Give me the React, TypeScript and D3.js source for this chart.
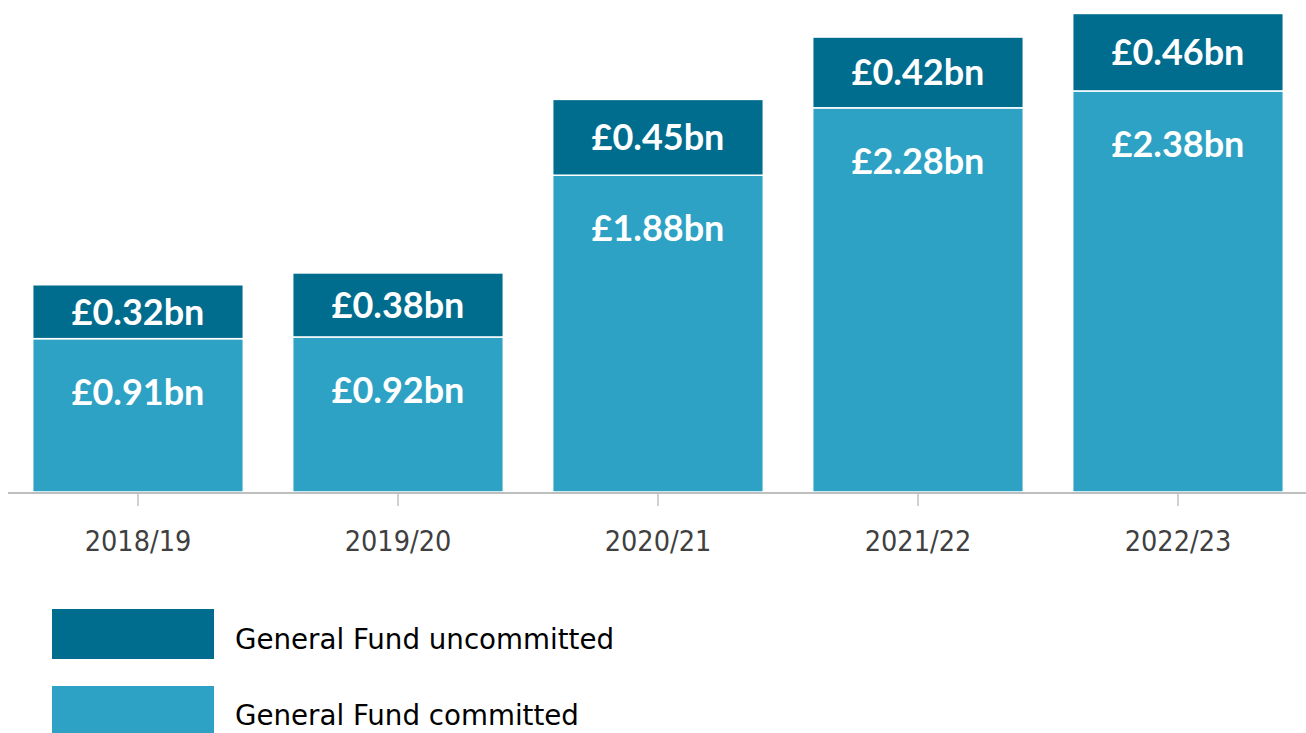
import React from "react";
import * as d3 from "d3";

const categories = ["2018/19", "2019/20", "2020/21", "2021/22", "2022/23"];
const committed = [0.91, 0.92, 1.88, 2.28, 2.38];
const uncommitted = [0.32, 0.38, 0.45, 0.42, 0.46];
const seriesNames = ["General Fund uncommitted", "General Fund committed"];

const W = 1306;
const H = 733;
const DARK = "#006d8e";
const LIGHT = "#2da2c4";

export default function App() {
  const x = d3.scaleBand<string>().domain(categories).range([8, 1308]).paddingInner(0.19).paddingOuter(0.095);
  const baseY = 492;
  const y = d3.scaleLinear().domain([0, 3]).range([baseY, baseY - 3 * 168.5]);
  const fmt = (v: number) => `£${v.toFixed(2)}bn`;
  const labelFont = "Lato, 'DejaVu Sans', sans-serif";
  const axisFont = "'DejaVu Sans Condensed', 'DejaVu Sans', sans-serif";
  const legendFont = "'DejaVu Sans', sans-serif";

  return (
    <svg width={W} height={H} style={{ position: "fixed", left: 0, top: 0, background: "#fff" }}>
      {categories.map((c, i) => {
        const x0 = x(c)!;
        const bw = x.bandwidth();
        const c0 = y(0), c1 = y(committed[i]);
        const u1 = y(committed[i] + uncommitted[i]);
        const cx = x0 + bw / 2;
        return (
          <g key={c}>
            <rect x={x0} y={c1} width={bw} height={c0 - c1} fill={LIGHT} stroke="#fff" strokeWidth={1.5} />
            <rect x={x0} y={u1} width={bw} height={c1 - u1} fill={DARK} stroke="#fff" strokeWidth={1.5} />
            <text x={cx} y={(u1 + c1) / 2} dy="0.36em" textAnchor="middle" fill="#fff" fontFamily={labelFont} fontWeight="bold" fontSize={36}>{fmt(uncommitted[i])}</text>
            <text x={cx} y={c1 + 53} dy="0.36em" textAnchor="middle" fill="#fff" fontFamily={labelFont} fontWeight="bold" fontSize={36}>{fmt(committed[i])}</text>
          </g>
        );
      })}
      <line x1={8} x2={1306} y1={baseY + 1} y2={baseY + 1} stroke="#bfbfbf" strokeWidth={2} />
      {categories.map((c) => {
        const cx = x(c)! + x.bandwidth() / 2;
        return (
          <g key={"t" + c}>
            <line x1={cx} x2={cx} y1={baseY + 2} y2={baseY + 14} stroke="#d0d0d0" strokeWidth={2} />
            <text x={cx} y={551} textAnchor="middle" fill="#404040" fontFamily={axisFont} fontSize={28.5}>{c}</text>
          </g>
        );
      })}
      {seriesNames.map((n, i) => (
        <g key={n}>
          <rect x={52} y={609 + i * 77} width={162} height={50} fill={i === 0 ? DARK : LIGHT} />
          <text x={235} y={649 + i * 76} fill="#000" fontFamily={legendFont} fontSize={27.7}>{n}</text>
        </g>
      ))}
    </svg>
  );
}
